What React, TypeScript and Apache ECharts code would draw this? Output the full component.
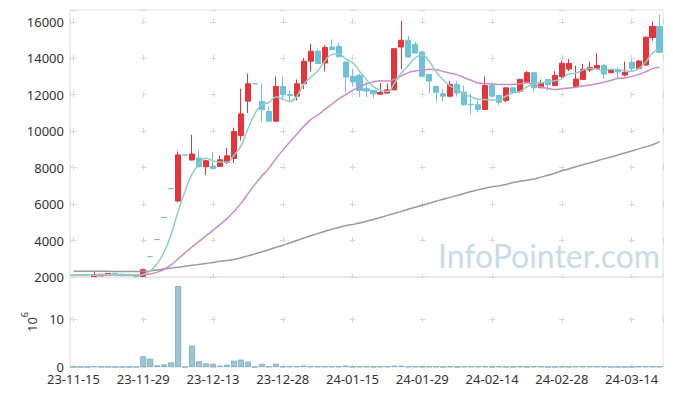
import React, { useEffect, useRef } from 'react';
import * as echarts from 'echarts';

const dates = [
  '23-11-15','23-11-16','23-11-17','23-11-20','23-11-21','23-11-22','23-11-23','23-11-24','23-11-27','23-11-28',
  '23-11-29','23-11-30','23-12-01','23-12-04','23-12-05','23-12-06','23-12-07','23-12-08','23-12-11','23-12-12',
  '23-12-13','23-12-14','23-12-15','23-12-18','23-12-19','23-12-20','23-12-21','23-12-22','23-12-26','23-12-27',
  '23-12-28','24-01-02','24-01-03','24-01-04','24-01-05','24-01-08','24-01-09','24-01-10','24-01-11','24-01-12',
  '24-01-15','24-01-16','24-01-17','24-01-18','24-01-19','24-01-22','24-01-23','24-01-24','24-01-25','24-01-26',
  '24-01-29','24-01-30','24-01-31','24-02-01','24-02-02','24-02-05','24-02-06','24-02-07','24-02-08','24-02-13',
  '24-02-14','24-02-15','24-02-16','24-02-19','24-02-20','24-02-21','24-02-22','24-02-23','24-02-26','24-02-27',
  '24-02-28','24-02-29','24-03-04','24-03-05','24-03-06','24-03-07','24-03-08','24-03-11','24-03-12','24-03-13',
  '24-03-14','24-03-15','24-03-18','24-03-19','24-03-20',
];

const openPrices = [
  2100,2080,2090,2020,2060,2120,2200,2150,2090,2110,
  2030,3120,4055,5270,6850,6170,8700,8420,8530,8050,
  8090,8070,8290,8500,9760,11650,12600,11630,11080,10550,
  12450,12010,11920,12600,13840,14390,13740,14620,14660,13800,
  13000,13060,12330,12240,12030,12090,12270,14620,14990,14770,
  14350,13120,12460,12050,11920,12570,12140,11480,11450,11190,
  12510,11960,11690,12380,12180,12690,13210,12380,12840,12510,
  13000,13410,12440,12840,13360,13450,13600,13210,13390,13080,
  13780,13450,13630,15140,15750,
];
const closePrices = [
  2090,2100,2090,2130,2150,2200,2130,2080,2080,2020,
  2400,3120,4055,5270,6850,8700,8690,8750,8050,8380,
  7960,8430,8650,9980,10950,12600,12600,11170,10550,12450,
  12020,11960,12600,13840,14390,13710,14590,14480,14080,12970,
  12700,12240,12200,12050,12130,12270,14530,14990,14070,14290,
  13010,12750,12140,11920,12570,12090,11450,11460,11190,12510,
  11920,11590,12380,12140,12840,13210,12380,12660,12550,13060,
  13720,13720,12860,13390,13500,13600,13140,13360,13250,13230,
  13450,13850,15160,15750,14330,
];
const lowPrices = [
  2080,2070,2090,2010,2050,2110,2120,2070,2080,2000,
  2000,3120,4055,5270,6850,6100,8690,8400,8000,7590,
  7950,8030,8200,8250,9480,11000,12600,10500,10540,10500,
  11800,11650,11680,12300,13280,13700,13280,14470,14070,12140,
  12450,11870,11870,11810,12000,12060,12250,13400,14050,14280,
  13000,12090,11630,11630,11850,11900,11400,10950,11040,11180,
  11900,11450,11600,12050,12100,12650,12140,12370,12200,12480,
  12900,13300,12430,12830,13250,13400,12860,13180,12900,13000,
  13300,13400,13600,14960,14320,
];
const highPrices = [
  2110,2110,2090,2300,2160,2210,2210,2160,2090,2120,
  2460,3120,4055,5270,6850,8900,8700,9800,8970,8400,
  8870,8650,9080,10200,12330,13160,12600,12600,11350,13000,
  13000,12240,12840,14020,14810,14530,14720,15030,14870,13800,
  13430,13150,12690,12240,12640,12600,14530,16050,15230,14900,
  14400,13130,12470,12300,12750,12750,12510,12050,11680,13000,
  12690,12000,12400,12400,12880,13300,13220,12840,12850,13300,
  13870,13960,13600,13690,13820,14280,13700,13400,13500,13820,
  13900,13900,15200,16020,16390,
];

const ma5 = [
  2100,2100,2100,2100,2112,2134,2140,2138,2128,2102,
  2142,2340,2735,3374,4341,5601,6715,7654,8209,8514,
  8366,8314,8294,8680,9194,10122,10956,11460,11574,11874,
  11758,11630,11916,12574,12962,13300,13826,14202,14250,13966,
  13764,13294,12838,12432,12264,12178,12636,13194,13598,14030,
  14178,13822,13252,12822,12478,12294,12034,11898,11752,11740,
  11706,11734,11918,12108,12174,12432,12590,12646,12728,12772,
  12874,13142,13182,13350,13438,13414,13298,13398,13370,13316,
  13286,13428,13788,14288,14508,
];
const ma20 = [
  2100,2100,2099,2101,2103,2108,2110,2109,2108,2104,
  2119,2170,2267,2426,2664,2994,3323,3656,3953,4267,
  4561,4877,5205,5598,6038,6558,7081,7536,7959,8481,
  8962,9404,9831,10259,10636,10887,11182,11468,11770,11999,
  12236,12427,12604,12708,12767,12750,12847,13038,13214,13306,
  13355,13395,13372,13276,13185,13104,12947,12796,12651,12628,
  12589,12557,12566,12570,12606,12653,12545,12429,12353,12291,
  12327,12375,12411,12485,12531,12607,12691,12786,12889,12925,
  13002,13115,13254,13434,13509,
];
const maLong = [
  2320,2320,2315,2315,2310,2310,2305,2300,2300,2295,
  2300,2330,2380,2440,2490,2540,2590,2640,2690,2740,
  2800,2860,2910,2960,3060,3160,3270,3380,3500,3620,
  3740,3870,4000,4140,4260,4380,4500,4620,4720,4810,
  4880,4960,5060,5160,5260,5380,5490,5600,5720,5830,
  5940,6050,6160,6270,6370,6480,6580,6690,6780,6870,
  6950,7000,7080,7180,7250,7310,7380,7480,7580,7690,
  7830,7930,8050,8160,8260,8370,8480,8580,8690,8800,
  8910,9030,9140,9260,9430,
];

const volumeMillions = [
  0.02,0.02,0.01,0.15,0.03,0.03,0.02,0.02,0.01,0.03,
  2.25,1.76,0.35,0.56,0.98,17.0,0,4.5,1.2,0.77,
  0.7,0.28,0.5,1.34,1.55,1.13,0,0.7,0.14,0.7,
  0.14,0.14,0.14,0.3,0.14,0.12,0.12,0.12,0.12,0.3,
  0.12,0.12,0.12,0.02,0.12,0.12,0.3,0.3,0.12,0.12,
  0.12,0.12,0.12,0.02,0.12,0.02,0.12,0.12,0.12,0.12,
  0.12,0.12,0.02,0.02,0.12,0.02,0.12,0.12,0.02,0.02,
  0.12,0.02,0.12,0.12,0.12,0.12,0.12,0.02,0.02,0.02,
  0.02,0.12,0.12,0.12,0.12,
];

const UP = '#e8333b';
const DOWN = '#6cc2da';
const GRID_LINE = '#d9d9d9';
const BORDER = '#e2e2e2';
const LABEL = '#333333';
const FONT = '"Noto Sans", sans-serif';

export default function App() {
  const ref = useRef<HTMLDivElement>(null);

  useEffect(() => {
    if (!ref.current) return;
    const chart = echarts.init(ref.current, null, { renderer: 'svg' });

    const candleData = dates.map((_, i) => {
      const value = [openPrices[i], closePrices[i], lowPrices[i], highPrices[i]];
      if (openPrices[i] === closePrices[i]) {
        return {
          value,
          itemStyle: { color: DOWN, color0: DOWN, borderColor: DOWN, borderColor0: DOWN, borderColorDoji: DOWN },
        };
      }
      return value;
    });

    const gridLeft = 70;
    const gridRight = 10;
    const plotWidth = 673 - gridLeft - gridRight;
    const period = (plotWidth / dates.length) * 10;
    const half = plotWidth / dates.length / 2;
    const hOffset = period - (half - 3);

    const priceTop = 10;
    const priceHeight = 267;
    const priceMin = 2000;
    const priceMax = 16650;
    const pricePeriod = (priceHeight * 2000) / (priceMax - priceMin);
    const firstPriceD = ((priceMax - 16000) / (priceMax - priceMin)) * priceHeight;
    const vPriceOffset = pricePeriod - (firstPriceD - 3);

    const volTop = 277;
    const volHeight = 90;
    const volMax = 18.9;
    const volPeriod = (volHeight * 10) / volMax;
    const firstVolD = volHeight - volPeriod;
    const vVolOffset = volPeriod - (firstVolD - 3);

    const option: any = {
      animation: false,
      grid: [
        { left: gridLeft, right: gridRight, top: priceTop, height: priceHeight, show: true, borderColor: BORDER, borderWidth: 1 },
        { left: gridLeft, right: gridRight, top: volTop, height: volHeight, show: true, borderColor: BORDER, borderWidth: 1 },
      ],
      xAxis: [
        {
          type: 'category', gridIndex: 0, data: dates, boundaryGap: true,
          axisLine: { show: false }, axisTick: { show: false }, axisLabel: { show: false }, splitLine: { show: false },
        },
        {
          type: 'category', gridIndex: 1, data: dates, boundaryGap: true,
          axisLine: { show: false }, axisTick: { show: false },
          axisLabel: { interval: 9, margin: 5, color: LABEL, fontSize: 13, fontFamily: FONT },
          splitLine: { show: false },
        },
        {
          type: 'value', gridIndex: 0, min: -0.5, max: 84.5, splitNumber: 9,
          axisLine: { show: false }, axisTick: { show: false }, axisLabel: { show: false },
          splitLine: { show: true, lineStyle: { color: GRID_LINE, width: 1, type: [6, pricePeriod - 6], dashOffset: vPriceOffset } },
        },
        {
          type: 'value', gridIndex: 1, min: -0.5, max: 84.5, splitNumber: 9,
          axisLine: { show: false }, axisTick: { show: false }, axisLabel: { show: false },
          splitLine: { show: true, lineStyle: { color: GRID_LINE, width: 1, type: [6, volPeriod - 6], dashOffset: vVolOffset } },
        },
      ],
      yAxis: [
        {
          type: 'value', gridIndex: 0, min: priceMin, max: priceMax, interval: 2000,
          axisLine: { show: false }, axisTick: { show: false },
          axisLabel: { showMaxLabel: false, formatter: (v: number) => String(v), margin: 6, color: LABEL, fontSize: 13, fontFamily: FONT },
          splitLine: { show: true, lineStyle: { color: GRID_LINE, width: 1, type: [6, period - 6], dashOffset: hOffset } },
        },
        {
          type: 'value', gridIndex: 1, min: 0, max: volMax, interval: 10,
          name: '{a|10}{b|6}', nameLocation: 'middle', nameGap: 30, nameRotate: 90,
          nameTextStyle: {
            rich: {
              a: { fontSize: 13, fontFamily: FONT, color: LABEL, lineHeight: 18, verticalAlign: 'bottom' },
              b: { fontSize: 9, fontFamily: FONT, color: LABEL, lineHeight: 18, verticalAlign: 'top' },
            },
          },
          axisLine: { show: false }, axisTick: { show: false },
          axisLabel: { showMaxLabel: false, formatter: (v: number) => String(v), margin: 6, color: LABEL, fontSize: 13, fontFamily: FONT },
          splitLine: { show: true, lineStyle: { color: GRID_LINE, width: 1, type: [6, period - 6], dashOffset: hOffset } },
        },
      ],
      graphic: [
        {
          type: 'text', silent: true, z: 0,
          style: { x: 438, y: 255, text: 'InfoPointer.com', font: '32px Lato', fill: '#c8dbe6', verticalAlign: 'middle', align: 'left' },
        },
      ],
      series: [
        {
          type: 'candlestick', xAxisIndex: 0, yAxisIndex: 0, data: candleData, barWidth: '80%',
          itemStyle: { color: UP, color0: DOWN, borderColor: UP, borderColor0: DOWN, borderWidth: 1 },
        },
        {
          type: 'line', xAxisIndex: 0, yAxisIndex: 0, data: maLong, smooth: true, showSymbol: false, symbol: 'none',
          lineStyle: { width: 1.5, color: '#9a9a9a' },
        },
        {
          type: 'line', xAxisIndex: 0, yAxisIndex: 0, data: ma20, smooth: true, showSymbol: false, symbol: 'none',
          lineStyle: { width: 1.5, color: '#cc8cc4' },
        },
        {
          type: 'line', xAxisIndex: 0, yAxisIndex: 0, data: ma5, smooth: true, showSymbol: false, symbol: 'none',
          lineStyle: { width: 1.5, color: '#8ecfc2' },
        },
        {
          type: 'bar', xAxisIndex: 1, yAxisIndex: 1, data: volumeMillions, barWidth: '88%',
          itemStyle: { color: '#9fc5d4', borderColor: '#86b4c6', borderWidth: 1 },
        },
      ],
    };

    chart.setOption(option);
    return () => chart.dispose();
  }, []);

  return <div ref={ref} style={{ position: 'absolute', left: 0, top: 0, width: 673, height: 396 }} />;
}
